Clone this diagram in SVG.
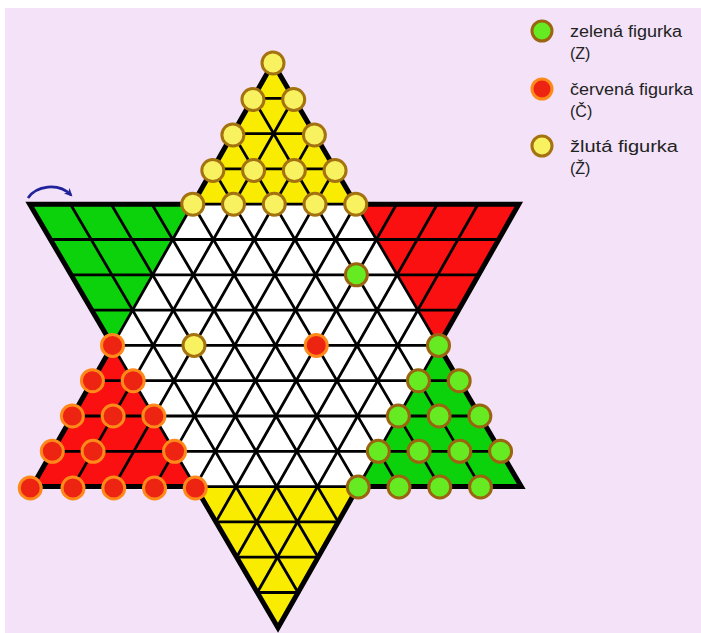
<svg xmlns="http://www.w3.org/2000/svg" width="701" height="633" viewBox="0 0 701 633">
<defs>
<style>
.bg{fill:#F3E2F8}
.grid line{stroke:#000;stroke-width:2.8;stroke-linecap:round}
.outline{fill:none;stroke:#000;stroke-width:5;stroke-linejoin:miter}
.py{fill:#F8F160;stroke:#A4720E;stroke-width:3}
.pg{fill:#66EA22;stroke:#9A6410;stroke-width:3}
.pr{fill:#EE2412;stroke:#FF8A1A;stroke-width:3}
.lbl{font-family:"Liberation Sans",Arial,sans-serif;font-size:16px;fill:#222}
</style>
<marker id="ah" markerWidth="10" markerHeight="10" refX="6" refY="5" orient="auto" markerUnits="userSpaceOnUse">
<path d="M0,1 L8,5 L0,9 L2,5 z" fill="#22229A"/>
</marker>
</defs>
<rect width="701" height="633" fill="#fff"/>
<rect class="bg" x="5" y="8" width="696" height="625"/>

<g id="board" transform="matrix(1 0 0.00885 1 273 63)">
<g id="fills">
<polygon fill="#fff" points="-81.5,141.2 81.5,141.2 163,282.4 81.5,423.6 -81.5,423.6 -163,282.4"/>
<polygon fill="#F9EC00" points="0,0 -81.5,141.2 81.5,141.2"/>
<polygon fill="#0CD20C" points="-244.5,141.2 -81.5,141.2 -163,282.4"/>
<polygon fill="#FA1010" points="81.5,141.2 244.5,141.2 163,282.4"/>
<polygon fill="#FA1010" points="-163,282.4 -244.5,423.6 -81.5,423.6"/>
<polygon fill="#0CD20C" points="163,282.4 81.5,423.6 244.5,423.6"/>
<polygon fill="#F9EC00" points="-81.5,423.6 81.5,423.6 0,564.8"/>
</g>
<g id="connectors" class="grid">
<line x1="-20.375" y1="35.3" x2="20.375" y2="35.3"/>
<line x1="-40.75" y1="70.6" x2="40.75" y2="70.6"/>
<line x1="-61.125" y1="105.9" x2="61.125" y2="105.9"/>
<line x1="-244.5" y1="141.2" x2="244.5" y2="141.2"/>
<line x1="-224.125" y1="176.5" x2="224.125" y2="176.5"/>
<line x1="-203.75" y1="211.8" x2="203.75" y2="211.8"/>
<line x1="-183.375" y1="247.1" x2="183.375" y2="247.1"/>
<line x1="-163" y1="282.4" x2="163" y2="282.4"/>
<line x1="-183.375" y1="317.7" x2="183.375" y2="317.7"/>
<line x1="-203.75" y1="353" x2="203.75" y2="353"/>
<line x1="-224.125" y1="388.3" x2="224.125" y2="388.3"/>
<line x1="-244.5" y1="423.6" x2="244.5" y2="423.6"/>
<line x1="-61.125" y1="458.9" x2="61.125" y2="458.9"/>
<line x1="-40.75" y1="494.2" x2="40.75" y2="494.2"/>
<line x1="-20.375" y1="529.5" x2="20.375" y2="529.5"/>

<line x1="0" y1="0" x2="244.5" y2="423.6"/>
<line x1="-20.375" y1="35.3" x2="203.75" y2="423.6"/>
<line x1="-40.75" y1="70.6" x2="163" y2="423.6"/>
<line x1="-61.125" y1="105.9" x2="122.25" y2="423.6"/>
<line x1="-81.5" y1="141.2" x2="81.5" y2="423.6"/>
<line x1="-122.25" y1="141.2" x2="61.125" y2="458.9"/>
<line x1="-163" y1="141.2" x2="40.75" y2="494.2"/>
<line x1="-203.75" y1="141.2" x2="20.375" y2="529.5"/>
<line x1="-244.5" y1="141.2" x2="0" y2="564.8"/>

<line x1="0" y1="0" x2="-244.5" y2="423.6"/>
<line x1="20.375" y1="35.3" x2="-203.75" y2="423.6"/>
<line x1="40.75" y1="70.6" x2="-163" y2="423.6"/>
<line x1="61.125" y1="105.9" x2="-122.25" y2="423.6"/>
<line x1="81.5" y1="141.2" x2="-81.5" y2="423.6"/>
<line x1="122.25" y1="141.2" x2="-61.125" y2="458.9"/>
<line x1="163" y1="141.2" x2="-40.75" y2="494.2"/>
<line x1="203.75" y1="141.2" x2="-20.375" y2="529.5"/>
<line x1="244.5" y1="141.2" x2="0" y2="564.8"/>
</g>
<polygon class="outline" points="0,0 81.5,141.2 244.5,141.2 163,282.4 244.5,423.6 81.5,423.6 0,564.8 -81.5,423.6 -244.5,423.6 -163,282.4 -244.5,141.2 -81.5,141.2"/>

<g id="yellow-pieces" class="py">
<circle cx="0" cy="0" r="11"/>
<circle cx="-20.375" cy="36.5" r="11"/>
<circle cx="20.375" cy="36.5" r="11"/>
<circle cx="-40.75" cy="72" r="11"/>
<circle cx="40.75" cy="72" r="11"/>
<circle cx="-61.125" cy="107.5" r="11"/>
<circle cx="-20.375" cy="107.5" r="11"/>
<circle cx="20.375" cy="107.5" r="11"/>
<circle cx="61.125" cy="107.5" r="11"/>
<circle cx="-81.5" cy="141.2" r="11"/>
<circle cx="-40.75" cy="141.2" r="11"/>
<circle cx="0" cy="141.2" r="11"/>
<circle cx="40.75" cy="141.2" r="11"/>
<circle cx="81.5" cy="141.2" r="11"/>
<circle cx="-81.5" cy="282.4" r="11"/>
</g>
<g id="red-pieces" class="pr">
<circle cx="-163" cy="282.4" r="11"/>
<circle cx="-183.375" cy="317.7" r="11"/>
<circle cx="-142.625" cy="317.7" r="11"/>
<circle cx="-203.75" cy="353" r="11"/>
<circle cx="-163" cy="353" r="11"/>
<circle cx="-122.25" cy="353" r="11"/>
<circle cx="-224.125" cy="388.3" r="11"/>
<circle cx="-183.375" cy="388.3" r="11"/>
<circle cx="-101.875" cy="388.3" r="11"/>
<circle cx="-246.5" cy="425" r="11"/>
<circle cx="-203.75" cy="425" r="11"/>
<circle cx="-163" cy="425" r="11"/>
<circle cx="-122.25" cy="425" r="11"/>
<circle cx="-81.5" cy="425" r="11"/>
<circle cx="40.75" cy="282.4" r="11"/>
</g>
<g id="green-pieces" class="pg">
<circle cx="163" cy="282.4" r="11"/>
<circle cx="142.625" cy="317.7" r="11"/>
<circle cx="183.375" cy="317.7" r="11"/>
<circle cx="122.25" cy="353" r="11"/>
<circle cx="163" cy="353" r="11"/>
<circle cx="203.75" cy="353" r="11"/>
<circle cx="101.875" cy="388.3" r="11"/>
<circle cx="142.625" cy="388.3" r="11"/>
<circle cx="183.375" cy="388.3" r="11"/>
<circle cx="224.125" cy="388.3" r="11"/>
<circle cx="81.5" cy="424" r="11"/>
<circle cx="122.25" cy="424" r="11"/>
<circle cx="163" cy="424" r="11"/>
<circle cx="203.75" cy="424" r="11"/>
<circle cx="81.5" cy="211.8" r="11"/>
</g>
</g>

<g id="rotation-arrow">
<path d="M28,198 C36,186 58,182 71,195" fill="none" stroke="#22229A" stroke-width="2.6" marker-end="url(#ah)"/>
</g>

<g id="legend-green">
<circle class="pg" cx="542" cy="31" r="10"/>
<text class="lbl" x="570" y="37" textLength="112" lengthAdjust="spacingAndGlyphs">zelená figurka</text>
<text class="lbl" x="570" y="59">(Z)</text>
</g>
<g id="legend-red">
<circle class="pr" cx="542" cy="89" r="10"/>
<text class="lbl" x="570" y="95" textLength="123" lengthAdjust="spacingAndGlyphs">červená figurka</text>
<text class="lbl" x="570" y="117">(Č)</text>
</g>
<g id="legend-yellow">
<circle class="py" cx="542" cy="146" r="10"/>
<text class="lbl" x="570" y="152" textLength="108" lengthAdjust="spacingAndGlyphs">žlutá figurka</text>
<text class="lbl" x="570" y="174">(Ž)</text>
</g>
</svg>
